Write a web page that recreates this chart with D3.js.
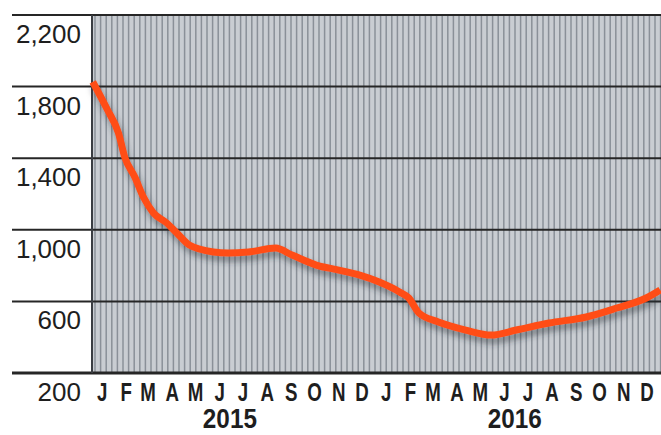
<!DOCTYPE html>
<html>
<head>
<meta charset="utf-8">
<script src="https://cdn.jsdelivr.net/npm/d3@7"></script>
<style>
  html, body { margin: 0; padding: 0; background: #fff; }
  svg { display: block; }
  .tick-label { font-family: "Liberation Sans", Arial, sans-serif; font-size: 26px; fill: #1e1e1e; }
  .month-label { font-family: "Liberation Sans", Arial, sans-serif; font-size: 26px; font-weight: bold; fill: #1e1e1e; }
  .year-label { font-family: "Liberation Sans", Arial, sans-serif; font-size: 27px; font-weight: bold; fill: #1e1e1e; }
</style>
</head>
<body>
<svg id="chart" width="661" height="435"></svg>
<script>
// ---- data ----
const dates = [
  "2015-01-02","2015-01-21","2015-02-04","2015-02-12","2015-02-25","2015-03-08",
  "2015-03-21","2015-04-07","2015-04-20","2015-05-06","2015-06-06","2015-06-25",
  "2015-07-21","2015-08-25","2015-09-15","2015-10-16","2015-11-14","2015-12-10",
  "2016-01-05","2016-01-31","2016-02-12","2016-02-25","2016-03-21","2016-04-25",
  "2016-05-28","2016-06-29","2016-08-10","2016-09-27","2016-11-05","2016-12-13",
  "2016-12-31"
];
const values = [
  1826, 1669, 1541, 1407, 1295, 1183,
  1094, 1038, 982, 915, 876, 870,
  876, 898, 859, 803, 775, 748,
  708, 653, 619, 535, 485, 440,
  412, 440, 479, 513, 563, 619,
  664
];
const yTicks = [200, 600, 1000, 1400, 1800, 2200];
const monthLabels = ["J","F","M","A","M","J","J","A","S","O","N","D"];
const years = [2015, 2016];

// ---- layout ----
const svg = d3.select("#chart");
const mLeft = 92, mRight = 661, mTop = 15, mBottom = 373;
const parse = d3.utcParse("%Y-%m-%d");
const data = dates.map((d, i) => ({ date: parse(d), value: values[i] }));

const x = d3.scaleUtc()
  .domain([Date.UTC(2015, 0, 1), Date.UTC(2017, 0, 1)])
  .range([mLeft, mRight]);
const y = d3.scaleLinear().domain([200, 2200]).range([mBottom, mTop]);

// shadow filter
const defs = svg.append("defs");
const f = defs.append("filter").attr("id", "shadow")
  .attr("x", "-10%").attr("y", "-20%").attr("width", "120%").attr("height", "140%");
f.append("feDropShadow").attr("dx", 2).attr("dy", 5).attr("stdDeviation", 3)
  .attr("flood-color", "#2a2f36").attr("flood-opacity", 0.5);

// plot background
svg.append("rect").attr("x", mLeft).attr("y", mTop)
  .attr("width", mRight - mLeft).attr("height", mBottom - mTop)
  .attr("fill", "#c9cdd2");

// vertical stripes
svg.append("g").selectAll("line").data(d3.range(mLeft + 3, mRight, 5.6)).join("line")
  .attr("x1", d => d).attr("x2", d => d)
  .attr("y1", mTop).attr("y2", mBottom)
  .attr("stroke", "#8a9098").attr("stroke-width", 1.5);

// horizontal gridlines
svg.append("g").selectAll("line").data(yTicks).join("line")
  .attr("x1", 12).attr("x2", mRight)
  .attr("y1", d => y(d)).attr("y2", d => y(d))
  .attr("stroke", "#262626").attr("stroke-width", d => d === 200 ? 3 : 2);

// left axis line
svg.append("line").attr("x1", mLeft).attr("x2", mLeft)
  .attr("y1", mTop).attr("y2", mBottom)
  .attr("stroke", "#3a3d42").attr("stroke-width", 2);

// y tick labels
svg.append("g").selectAll("text").data(yTicks).join("text")
  .attr("class", "tick-label")
  .attr("x", 81).attr("y", d => y(d) + 28)
  .attr("text-anchor", "end")
  .text(d => d3.format(",")(d));

// month labels (condensed via horizontal scale)
const monthData = [];
years.forEach(yr => monthLabels.forEach((m, i) => monthData.push({ label: m, date: Date.UTC(yr, i, 14) })));
svg.append("g").selectAll("text").data(monthData).join("text")
  .attr("class", "month-label")
  .attr("transform", d => `translate(${x(d.date)},401) scale(0.72,1)`)
  .attr("text-anchor", "middle")
  .text(d => d.label);

// year labels
svg.append("g").selectAll("text").data(years).join("text")
  .attr("class", "year-label")
  .attr("transform", d => `translate(${x(Date.UTC(d, 6, 1)) - 3},428) scale(0.9,1)`)
  .attr("text-anchor", "middle")
  .text(d => d);

// data line
const line = d3.line().x(d => x(d.date)).y(d => y(d.value)).curve(d3.curveMonotoneX);
svg.append("path").datum(data)
  .attr("d", line)
  .attr("fill", "none")
  .attr("stroke", "#ff4d15")
  .attr("stroke-width", 7)
  .attr("stroke-linejoin", "round")
  .attr("stroke-linecap", "butt")
  .attr("filter", "url(#shadow)");
</script>
</body>
</html>
